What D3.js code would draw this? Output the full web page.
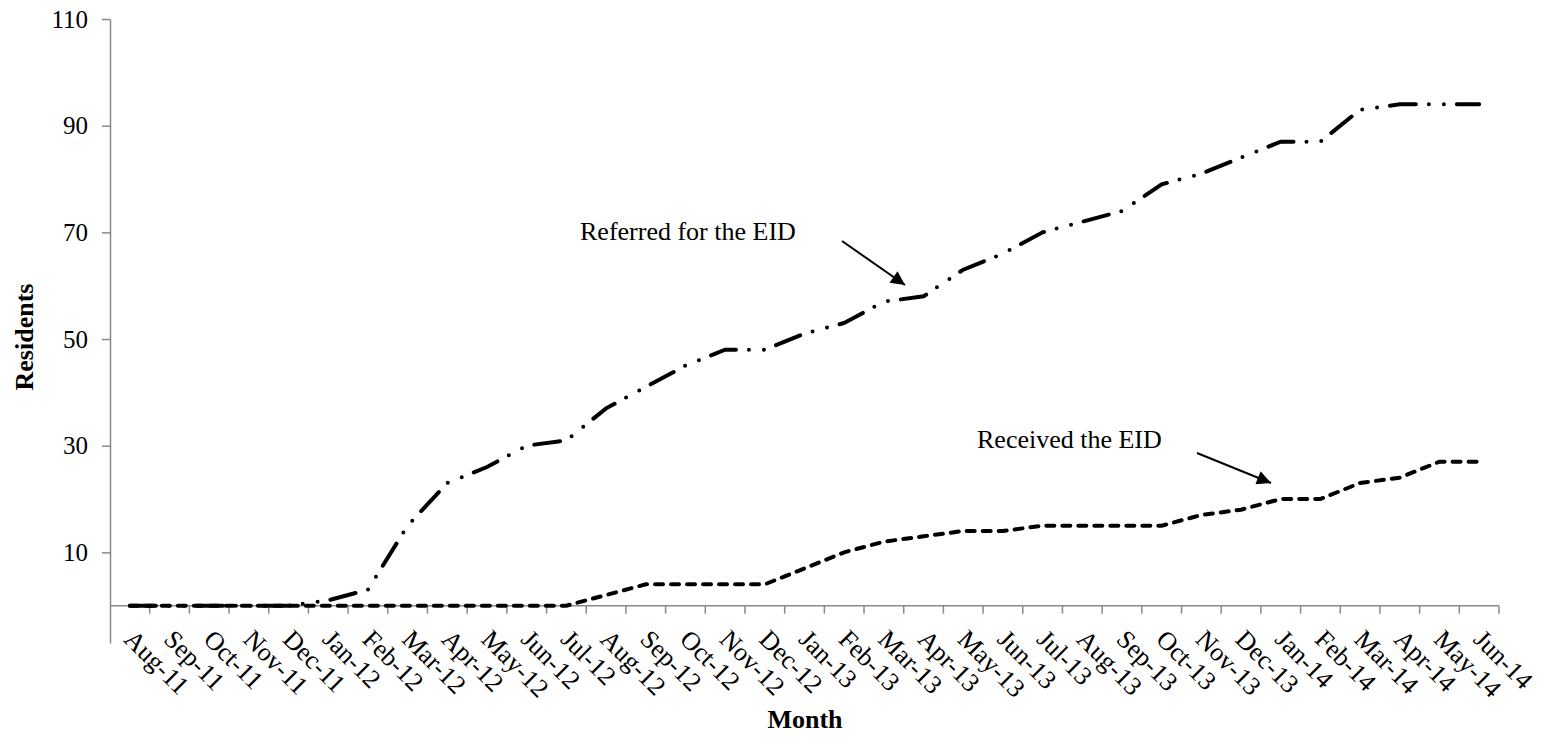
<!DOCTYPE html>
<html>
<head>
<meta charset="utf-8">
<script src="https://cdn.jsdelivr.net/npm/d3@7"></script>
<style>
  body { margin: 0; background: #fff; }
  text { font-family: "Liberation Serif", "Times New Roman", serif; fill: #000; }
</style>
</head>
<body>
<script>
// data
var months = ["Aug-11","Sep-11","Oct-11","Nov-11","Dec-11","Jan-12","Feb-12","Mar-12","Apr-12","May-12","Jun-12","Jul-12",
  "Aug-12","Sep-12","Oct-12","Nov-12","Dec-12","Jan-13","Feb-13","Mar-13","Apr-13","May-13","Jun-13","Jul-13",
  "Aug-13","Sep-13","Oct-13","Nov-13","Dec-13","Jan-14","Feb-14","Mar-14","Apr-14","May-14","Jun-14"];
var referred = [0,0,0,0,0,1,3,15,23,26,30,31,37,41,45,48,48,51,53,57,58,63,66,70,72,74,79,81,84,87,87,93,94,94,94];
var received = [0,0,0,0,0,0,0,0,0,0,0,0,2,4,4,4,4,7,10,12,13,14,14,15,15,15,15,17,18,20,20,23,24,27,27];
var yTicks = [10,30,50,70,90,110];

var width = 1543, height = 737;
var plotLeft = 110, plotRight = 1499, plotTop = 19, plotBottom = 643;

var svg = d3.select("body").append("svg").attr("width", width).attr("height", height);

var x = d3.scaleBand().domain(months).range([plotLeft, plotRight]).padding(0);
var y = d3.scaleLinear().domain([-7, 110]).range([plotBottom, plotTop]);
var cx = function(m){ return x(m) + x.bandwidth()/2; };

//y axis
var yAxis = d3.axisLeft(y).tickValues(yTicks).tickSize(8).tickSizeOuter(0).tickPadding(14);
var gy = svg.append("g").attr("transform", "translate(" + plotLeft + ",0)").call(yAxis);
gy.select(".domain").attr("stroke", "#898989").attr("stroke-width", 1.5);
gy.selectAll(".tick line").attr("stroke", "#898989").attr("stroke-width", 1.5);
gy.selectAll(".tick text").style("font-size", "25px").attr("fill", "#000")
  .style("font-family", "'Liberation Serif', serif");

//x axis at 0
var y0 = y(0);
svg.append("line").attr("x1", plotLeft).attr("x2", plotRight).attr("y1", y0).attr("y2", y0)
  .attr("stroke", "#898989").attr("stroke-width", 1.5);
svg.selectAll(".xtick").data(months).enter().append("line")
  .attr("class", "xtick")
  .attr("x1", function(d){ return x(d) + x.bandwidth(); })
  .attr("x2", function(d){ return x(d) + x.bandwidth(); })
  .attr("y1", y0).attr("y2", y0 + 8)
  .attr("stroke", "#898989").attr("stroke-width", 1.5);
svg.selectAll(".xlab").data(months).enter().append("text")
  .attr("class", "xlab")
  .attr("transform", function(d){ return "translate(" + (cx(d) - 7) + "," + (y0 + 35) + ") rotate(45)"; })
  .style("font-size", "26px")
  .text(function(d){ return d; });

//lines
var line = d3.line().x(function(d, i){ return cx(months[i]); }).y(function(d){ return y(d); });

svg.append("path").datum(received).attr("d", line)
  .attr("fill", "none").attr("stroke", "#000").attr("stroke-width", 4)
  .attr("stroke-linecap", "round").attr("stroke-dasharray", "8,8");

svg.append("path").datum(referred).attr("d", line)
  .attr("fill", "none").attr("stroke", "#000").attr("stroke-width", 4)
  .attr("stroke-linecap", "round").attr("stroke-dasharray", "26,13,0,15,0,13");

//axis titles
svg.append("text").attr("x", 805).attr("y", 728).attr("text-anchor", "middle")
  .style("font-size", "26px").style("font-weight", "bold").text("Month");
svg.append("text").attr("transform", "translate(33,337) rotate(-90)").attr("text-anchor", "middle")
  .style("font-size", "26px").style("font-weight", "bold").text("Residents");

//annotations
svg.append("defs").append("marker").attr("id", "arr")
  .attr("viewBox", "0 0 10 10").attr("refX", 10).attr("refY", 5)
  .attr("markerWidth", 8).attr("markerHeight", 7).attr("markerUnits", "strokeWidth")
  .attr("orient", "auto")
  .append("path").attr("d", "M0,0 L10,5 L0,10 Z").attr("fill", "#000");

var notes = [
  {label: "Referred for the EID", tx: 580, ty: 240, x1: 842, y1: 241, x2: 905, y2: 285},
  {label: "Received the EID", tx: 977, ty: 448, x1: 1197, y1: 453, x2: 1271, y2: 483}
];
notes.forEach(function(n){
  svg.append("text").attr("x", n.tx).attr("y", n.ty).style("font-size", "26px").text(n.label);
  svg.append("line").attr("x1", n.x1).attr("y1", n.y1).attr("x2", n.x2).attr("y2", n.y2)
    .attr("stroke", "#000").attr("stroke-width", 2).attr("marker-end", "url(#arr)");
});
</script>
</body>
</html>
